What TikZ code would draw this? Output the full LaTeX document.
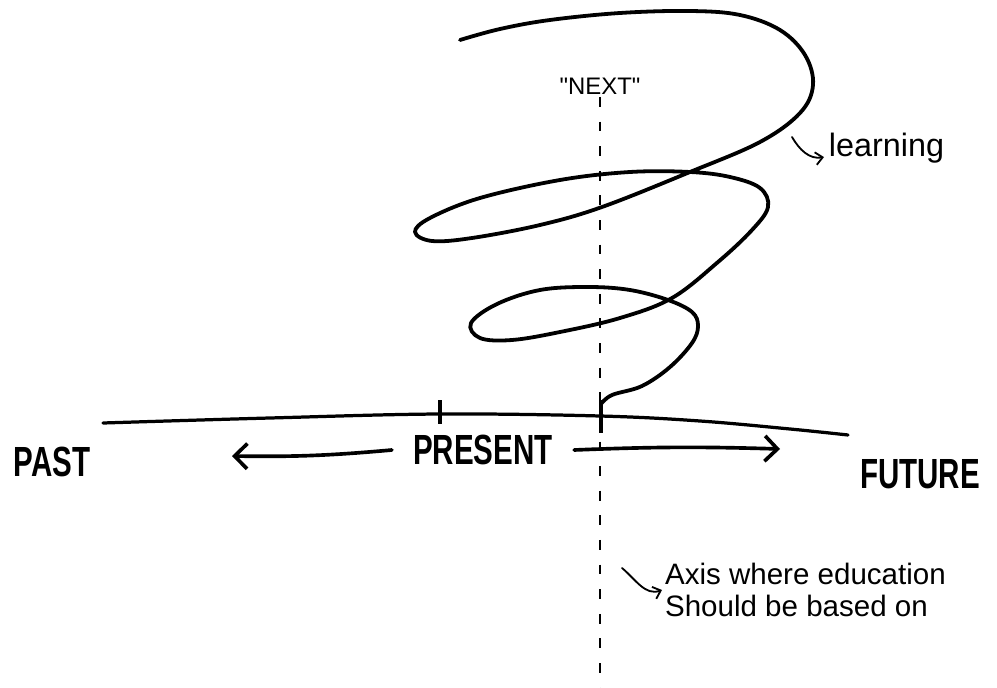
\documentclass[tikz,border=0pt]{standalone}
\usepackage{fontspec}
\setmainfont{Liberation Sans}
\newfontfamily\handcaps[FakeStretch=0.7]{Liberation Sans}
\usetikzlibrary{arrows.meta}

\begin{document}
\begin{tikzpicture}[x=0.025cm, y=-0.025cm,
    thickline/.style={line width=2.7pt, line cap=round, line join=round},
    thinarrow/.style={line width=1.3pt, line cap=round, -{Straight Barb[length=5pt, width=9pt]}},
    bigarrow/.style={line width=2.6pt, line cap=round, -{Straight Barb[length=9pt, width=18pt, line width=2.6pt]}},
    caps/.style={font=\handcaps\bfseries\fontsize{30}{32}\selectfont},
    hand/.style={font=\fontsize{21}{23}\selectfont}]
    \useasboundingbox (0,0) rectangle (997,688);

    % axis of "next"
    \draw[line width=1.3pt, dash pattern=on 7pt off 10.5pt] (600,97) -- (600,688);
    \node[font=\fontsize{17}{19}\selectfont] (next) at (600,86) {\textquotedbl NEXT\textquotedbl};

    % time line
    \draw[line width=2.3pt, line cap=round] plot[smooth, tension=0.6] coordinates {(103,423) (270,418) (440,414) (600,416) (700,421) (790,429) (848,435)};
    \draw[line width=2.2pt] (440,400) -- (440,424);
    \draw[line width=3pt] (601,400) -- (601,433);

    % spiral
    \draw[thickline] plot[smooth, tension=0.6] coordinates {
        (601,404) (612,395) (642,386) (670,367) (692,343) (698,326) (692,312)
        (668,300) (630,290) (588,287) (540,290) (497,304) (471,323) (480,338)
        (512,340) (560,332) (620,318) (672,298) (718,262) (752,230) (768,207)
        (760,188) (730,177) (690,172) (630,172) (560,180) (480,198) (430,218)
        (415,232) (432,241) (472,238) (540,225) (602,207) (690,172) (760,142)
        (800,113) (813,85) (805,55) (780,30) (740,15) (690,11) (620,13)
        (550,20) (500,29) (460,40)};

    % labels
    \node[caps] (past) at (52,462) {PAST};
    \node[caps, inner xsep=15pt] (present) at (483,450) {PRESENT};
    \node[caps] (future) at (920,474) {FUTURE};
    \coordinate (pastend) at (232,456);
    \coordinate (futureend) at (780,449);
    \draw[bigarrow] (present.west) to[bend left=3] (pastend);
    \draw[bigarrow] (present.east) to[bend left=2] (futureend);

    \node[font=\fontsize{23}{25}\selectfont, anchor=base west] (learning) at (824,157) {learning};
    \coordinate (learnstart) at (792,137);
    \draw[thinarrow] (learnstart) to[out=-60, in=190] ([yshift=-6]learning.west);

    \node[hand, align=left, anchor=west, inner sep=2pt] (axisnote) at (662,590) {Axis where education\\Should be based on};
    \coordinate (axisstart) at (622,568);
    \draw[thinarrow] (axisstart) to[out=-40, in=200] (axisnote.west);
\end{tikzpicture}
\end{document}
